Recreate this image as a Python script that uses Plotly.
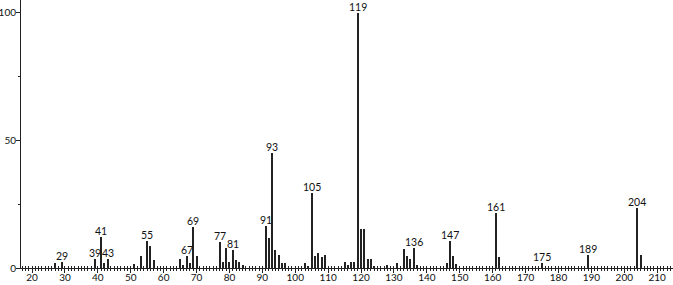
import plotly.graph_objects as go

mz = [27, 29, 39, 41, 42, 43, 51, 53, 55, 56, 57, 65, 66, 67, 68, 69, 70,
      77, 78, 79, 80, 81, 82, 83, 84, 91, 92, 93, 94, 95, 96, 97, 103, 104,
      105, 106, 107, 108, 109, 115, 116, 117, 118, 119, 120, 121, 122, 123,
      124, 128, 131, 133, 134, 135, 136, 137, 146, 147, 148, 149, 161, 162,
      175, 189, 204, 205]
intensity = [2.1, 2.4, 3.7, 12.0, 1.8, 3.7, 1.7, 4.7, 10.7, 8.6, 3.1, 3.7, 1.2,
             4.7, 1.8, 16.2, 4.7, 10.3, 2.4, 7.8, 2.4, 7.2, 3.1, 2.4, 1.2, 16.5,
             11.8, 45.2, 7.1, 5.0, 1.8, 1.8, 1.8, 0.8, 29.5, 4.7, 6.0, 4.4, 5.1,
             2.4, 1.2, 2.4, 2.4, 100, 15.3, 15.3, 3.7, 3.4, 0.9, 1.2, 1.8, 7.3,
             4.7, 3.7, 7.7, 1.2, 1.8, 10.7, 4.6, 1.4, 21.7, 4.4, 1.8, 5.0, 23.4,
             5.1]
labeled_mz = [29, 39, 41, 43, 55, 67, 69, 77, 81, 91, 93, 105, 119, 136, 147,
              161, 175, 189, 204]
x_ticks = list(range(20, 211, 10))
y_ticks = [0, 50, 100]

FONT = "Lato"
fig = go.Figure()
fig.add_trace(go.Bar(x=mz, y=intensity, width=0.32,
                     marker=dict(color="#222222", line=dict(width=0)),
                     showlegend=False))

lookup = dict(zip(mz, intensity))
for m in labeled_mz:
    fig.add_annotation(x=m, y=lookup[m], text=str(m), showarrow=False,
                       yanchor="bottom", yshift=-1, borderpad=0,
                       font=dict(family=FONT, size=10.5, color="#111111"))

# overlay axis for ticks crossing above baseline
fig.add_trace(go.Scatter(x=[None], y=[None], xaxis="x2", showlegend=False))

xr = [16.65, 214.8]
fig.update_layout(
    width=673, height=285,
    margin=dict(l=21, r=0, t=0, b=17, autoexpand=False),
    paper_bgcolor="white", plot_bgcolor="white",
    bargap=0,
    xaxis=dict(range=xr, tickvals=x_ticks, ticks="outside", ticklen=4,
               tickcolor="#222", tickwidth=1, automargin=False,
               ticklabelstandoff=-4,
               showline=True, linecolor="#222", linewidth=1,
               showgrid=False, zeroline=False,
               minor=dict(dtick=1, tick0=0, ticks="outside", ticklen=2,
                          tickcolor="#222", showgrid=False),
               tickfont=dict(family=FONT, size=10, color="#111")),
    xaxis2=dict(range=xr, overlaying="x", anchor="y", side="bottom",
                tickvals=x_ticks, ticks="inside", ticklen=2, tickcolor="#222",
                showticklabels=False, showgrid=False, zeroline=False,
                showline=False, automargin=False,
                minor=dict(dtick=1, tick0=0, ticks="inside", ticklen=2,
                           tickcolor="#222", showgrid=False)),
    yaxis=dict(range=[0, 105], tickvals=y_ticks, ticks="outside", ticklen=4,
               tickcolor="#222", showline=True, linecolor="#222",
               linewidth=1, showgrid=False, zeroline=False, automargin=False,
               ticklabelstandoff=-2,
               minor=dict(tickvals=[25, 75], ticks="outside", ticklen=2,
                          tickcolor="#222", showgrid=False),
               tickfont=dict(family=FONT, size=10, color="#111")),
)
fig.write_html("out.html")
